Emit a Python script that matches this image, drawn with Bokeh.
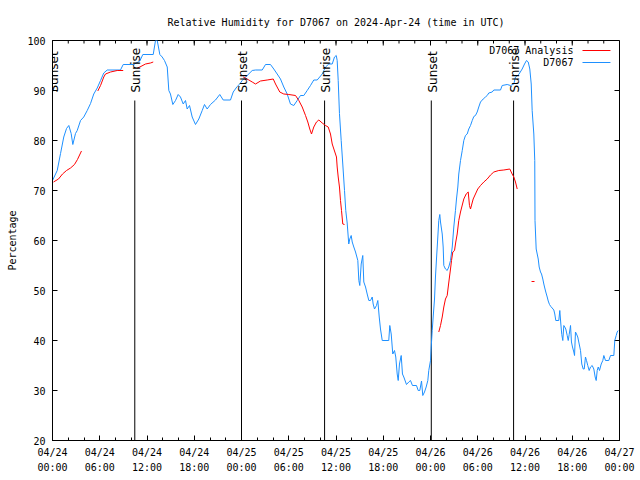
import math
from bokeh.plotting import figure
from bokeh.models import Range1d, FixedTicker, LinearAxis, Label
from bokeh.embed import file_html
from bokeh.resources import INLINE

NaN = float("nan")

TITLE = "Relative Humidity for D7067 on 2024-Apr-24 (time in UTC)"
Y_LABEL = "Percentage"
SERIES_NAMES = ["D7067 Analysis", "D7067"]

# x axis: hours since 2024-04-24 00:00 UTC
tick_hours = [0, 6, 12, 18, 24, 30, 36, 42, 48, 54, 60, 66, 72]
tick_dates = ["04/24", "04/24", "04/24", "04/24", "04/25", "04/25", "04/25",
              "04/25", "04/26", "04/26", "04/26", "04/26", "04/27"]
tick_times = ["00:00", "06:00", "12:00", "18:00", "00:00", "06:00", "12:00",
              "18:00", "00:00", "06:00", "12:00", "18:00", "00:00"]
minor_hours = list(range(0, 73, 2))
y_ticks = [20, 30, 40, 50, 60, 70, 80, 90, 100]

sunset_hours = [-0.05, 24.0, 48.1]
sunrise_hours = [10.45, 34.55, 58.55]

# D7067 observations
obs_hours = [
    0.00, 0.60, 1.02, 1.43, 1.78, 2.07, 2.37, 2.58, 2.92, 3.14, 3.56, 3.97, 4.41,
    4.83, 5.24, 5.68, 6.10, 6.51, 6.95, 8.63, 8.98, 10.32, 11.09, 11.47, 12.79,
    13.08, 13.30, 13.63, 13.93, 14.22, 14.57, 14.77, 14.98, 15.28, 15.62, 15.96,
    16.25, 16.60, 16.89, 17.10, 17.40, 17.74, 18.16, 18.58, 19.01, 19.30, 19.64,
    20.06, 20.70, 21.24, 21.68, 22.60, 22.95, 23.45, 23.78, 24.09, 24.72, 25.36,
    25.78, 26.63, 27.05, 27.68, 28.10, 28.53, 28.95, 29.37, 29.80, 30.22, 30.64,
    31.07, 31.49, 31.91, 32.34, 32.76, 33.18, 33.61, 34.25, 34.67, 35.09, 35.52,
    35.81, 36.03, 36.15, 36.28, 36.44, 36.66, 36.86, 37.08, 37.24, 37.42, 37.62,
    37.75, 37.93, 38.06, 38.26, 38.48, 38.77, 38.90, 39.02, 39.20, 39.40, 39.53,
    39.75, 39.96, 40.17, 40.38, 40.60, 40.72, 40.89, 41.14, 41.31, 41.49, 41.65,
    41.87, 42.70, 42.83, 43.01, 43.21, 43.43, 43.59, 43.77, 43.90, 44.06, 44.28,
    44.44, 44.61, 44.95, 45.24, 45.46, 45.71, 46.22, 46.44, 46.64, 46.86, 47.02,
    47.24, 47.45, 47.66, 47.78, 48.00, 48.09, 48.22, 48.34, 48.51, 48.63, 48.76,
    48.93, 49.05, 49.18, 49.27, 49.49, 49.61, 49.69, 49.90, 50.12, 50.32, 50.54,
    50.76, 50.96, 51.17, 51.30, 51.47, 51.59, 51.81, 52.03, 52.23, 52.44, 52.66,
    52.86, 53.08, 53.30, 53.50, 53.71, 53.93, 54.13, 54.35, 54.69, 54.98, 55.20,
    55.40, 55.83, 56.04, 56.89, 57.10, 57.74, 58.16, 58.58, 58.79, 59.21, 59.64,
    59.94, 60.19, 60.41, 60.61, 60.79, 60.91, 61.12, 61.24, 61.27, 61.42, 61.55,
    61.68, 61.80, 61.97, 62.10, 62.26, 62.39, 62.51, 62.64, 62.82, 62.95, 63.11,
    63.28, 63.45, 63.66, 63.78, 63.91, 64.29, 64.42, 64.55, 64.67, 64.80, 64.93,
    65.05, 65.18, 65.36, 65.49, 65.61, 65.78, 65.90, 66.03, 66.20, 66.29, 66.41,
    66.54, 66.70, 66.88, 67.05, 67.21, 67.39, 67.52, 67.68, 67.81, 67.97, 68.15,
    68.32, 68.53, 68.74, 68.91, 69.04, 69.17, 69.30, 69.46, 69.68, 69.88, 70.01,
    70.22, 70.64, 70.86, 71.28, 71.40, 71.58, 71.71, 71.83,
]
obs_rh = [
    72, 74, 77.4, 80.7, 82.4, 83, 81.4, 79.2, 81.4, 82, 84, 84.7, 86,
    87.4, 89.3, 90.5, 92, 93.5, 94.1, 94.1, 95.2, 95.2, 95.9, 97.2, 97.2,
    100, 100, 97.2, 96.7, 96, 94.7, 90, 89.3, 87.2, 88, 89.2,
    88.7, 87.3, 88, 86.3, 87, 84.7, 83.2, 84.3, 86, 87.2, 86.3,
    87.2, 88.1, 89.2, 88.1, 88.1, 89.7, 90.8, 91.3, 92, 93, 94,
    94.1, 94.1, 95.2, 95.2, 94.3, 93.3, 92.3, 90.7, 89.3, 87.3, 87,
    88, 89, 89, 90, 91, 92.1, 92.1, 93.3, 94.7, 95.3, 95.3,
    96.7, 97, 96, 92, 85.4, 80, 75.3, 70, 66, 63.5, 59.3,
    60.3, 61, 59.7, 58.7, 57.7, 56, 52, 51, 55.3, 57, 51.7,
    50.7, 49.3, 48, 48, 48.7, 47.3, 46.3, 47, 48, 44.7, 42.3,
    40, 40, 43, 41.3, 37.3, 38, 36.7, 33.3, 32, 35.3, 37,
    33.3, 32.7, 31.2, 31.7, 32, 31, 31, 30, 30, 31.9, 29,
    29.7, 30.7, 32, 34, 36, 38.7, 42, 44.7, 48.3, 52.7, 56.3,
    60.7, 64, 65.2, 63.7, 61.3, 58.7, 55, 54.3, 54, 54.7, 56,
    58.7, 62.7, 66, 68.3, 70.7, 73.3, 76, 78, 80, 81, 81.3,
    82.3, 83, 84, 84.8, 85, 85.7, 86.7, 87.7, 88.3, 88.7, 89,
    89.5, 89.7, 90.1, 90.1, 91, 91.2, 91, 91.3, 92.7, 93.2, 94.3,
    95.3, 96, 95.7, 94.3, 91.3, 86, 81.3, 76, 64, 58.3, 57.3,
    56.3, 54.7, 53.7, 53.3, 52.3, 51.3, 50.5, 49.7, 48.7, 47.9, 47.2,
    46.8, 46.5, 46.1, 45.3, 44, 44, 46, 43.3, 41.2, 40, 43,
    42.7, 42.3, 41, 40, 41.2, 43, 39.7, 38.7, 37.7, 37, 41.7,
    41.3, 40.7, 39.3, 38, 35.3, 34.3, 34.3, 36.7, 36, 35, 34,
    34.7, 35, 34.3, 32.7, 32, 34, 34.7, 34, 35.3, 36, 37,
    36, 36, 37, 37, 40, 41, 41.7, 42,
]

# D7067 Analysis (NaN = gap)
ana_hours = [
    0.13, 0.76, 1.27, 1.78, 2.29, 2.79, 3.17, 3.68, NaN,
    5.75, 6.10, 6.51, 6.73, 7.37, 8.22, 8.98, NaN,
    10.76, 11.09, 11.81, 12.44, 12.79, NaN,
    24.22, 24.93, 25.36, 25.78, 26.41, 27.26, 28.03, 28.32, 28.86, 29.37, 30.01,
    30.86, 31.28, 31.71, 32.13, 32.42, 32.67, 32.89, 33.18, 33.52, 33.82, 34.25,
    34.67, 35.01, 35.30, 35.52, 35.81, 36.06, 36.15, 36.28, 36.44, 36.57, 36.70,
    36.86, 37.08, NaN,
    49.05, 49.27, 49.49, 49.69, 49.90, 50.12, 50.25, 50.41, 50.54, 50.67, 50.83,
    51.05, 51.21, 51.39, 51.59, 51.81, 52.23, 52.53, 52.79, 52.95, 53.08, 53.42,
    53.71, 54.00, 54.35, 54.77, 55.20, 55.62, 56.04, 56.67, 57.31, 58.07, 58.37,
    58.58, 58.79, 59.01, NaN,
    60.83, 61.21,
]
ana_rh = [
    71.7, 72.3, 73.3, 74, 74.5, 75.2, 76.2, 77.9, NaN,
    89.9, 91, 92.7, 93.3, 93.7, 94, 94, NaN,
    94.5, 94.7, 95.3, 95.5, 95.7, NaN,
    92.7, 92.1, 91.7, 91.3, 91.9, 92.1, 92.3, 91.3, 89.7, 89.3, 89.2,
    89, 88, 86.7, 85, 83.7, 82.3, 81.3, 82.7, 83.7, 84.1, 83.5,
    83, 82.7, 81.3, 79.3, 77.9, 76.7, 74.7, 72.7, 70.7, 68, 66,
    63.3, 63.2, NaN,
    41.7, 43, 44.7, 46.7, 48.3, 49, 50.7, 52.7, 54.3, 56, 57.7,
    58, 59.7, 61.3, 64, 65.7, 68.3, 69.3, 69.7, 67, 66.3, 68.3,
    69.3, 70.3, 71, 71.7, 72.3, 73.1, 73.7, 74, 74.1, 74.3, 73.3,
    72.7, 71.7, 70.3, NaN,
    51.8, 51.8,
]

RED = "#FF0000"
BLUE = "#1E90FF"
MONO = "DejaVu Sans Mono"

X0, X1 = 0, 72
Y0, Y1 = 20, 100
BORDER_L, BORDER_R, BORDER_T, BORDER_B = 52, 21, 40, 40
W, H = 640, 480

p = figure(width=W, height=H, output_backend="svg", toolbar_location=None,
           x_range=Range1d(X0, X1), y_range=Range1d(Y0, Y1),
           min_border_left=BORDER_L, min_border_right=BORDER_R,
           min_border_top=BORDER_T, min_border_bottom=BORDER_B, title=TITLE)
p.grid.visible = False
p.outline_line_color = "black"
p.outline_line_width = 1
p.background_fill_color = "white"
p.border_fill_color = "white"

p.title.text_font = MONO
p.title.text_font_size = "10px"
p.title.text_font_style = "normal"
p.title.text_color = "black"
p.title.align = "center"
p.title.standoff = 26

xt = FixedTicker(ticks=tick_hours, minor_ticks=minor_hours)
yt = FixedTicker(ticks=y_ticks, minor_ticks=[])

MAJ_TICK, MIN_TICK = 5, 3


def style_axis(ax):
    ax.major_tick_in = MAJ_TICK
    ax.major_tick_out = 0
    ax.minor_tick_in = MIN_TICK
    ax.minor_tick_out = 0
    ax.axis_line_color = "black"
    ax.major_tick_line_color = "black"
    ax.minor_tick_line_color = "black"
    ax.major_label_text_font = MONO
    ax.major_label_text_font_size = "10px"
    ax.major_label_text_color = "black"


xa = p.xaxis[0]
xa.ticker = xt
style_axis(xa)
xa.major_label_overrides = {float(h): d for h, d in zip(tick_hours, tick_dates)}
xa.major_label_standoff = 6

xa2 = LinearAxis(ticker=xt)
style_axis(xa2)
xa2.major_tick_in = 0
xa2.minor_tick_in = 0
xa2.axis_line_color = None
xa2.major_label_overrides = {float(h): t for h, t in zip(tick_hours, tick_times)}
xa2.major_label_standoff = 1
p.add_layout(xa2, "below")

ya = p.yaxis[0]
ya.ticker = yt
style_axis(ya)
ya.major_label_standoff = 7
ya.axis_label = Y_LABEL
ya.axis_label_text_font = MONO
ya.axis_label_text_font_size = "10px"
ya.axis_label_text_font_style = "normal"
ya.axis_label_text_color = "black"
ya.axis_label_standoff = 6

# mirrored inward ticks on the top and right frame edges
px_x = (X1 - X0) / (W - BORDER_L - BORDER_R)
px_y = (Y1 - Y0) / (H - BORDER_T - BORDER_B)
p.segment(x0=tick_hours, y0=[Y1] * len(tick_hours), x1=tick_hours,
          y1=[Y1 - MAJ_TICK * px_y] * len(tick_hours), line_color="black")
p.segment(x0=minor_hours, y0=[Y1] * len(minor_hours), x1=minor_hours,
          y1=[Y1 - MIN_TICK * px_y] * len(minor_hours), line_color="black")
p.segment(x0=[X1] * len(y_ticks), y0=y_ticks, x1=[X1 - MAJ_TICK * px_x] * len(y_ticks),
          y1=y_ticks, line_color="black")

# sunrise / sunset markers
LINE_TOP = 88
LABEL_Y = 89.6
p.segment(x0=sunset_hours, y0=[Y0] * len(sunset_hours), x1=sunset_hours,
          y1=[LINE_TOP] * len(sunset_hours), line_color="black", line_width=1)
p.segment(x0=sunrise_hours, y0=[Y0] * len(sunrise_hours), x1=sunrise_hours,
          y1=[LINE_TOP] * len(sunrise_hours), line_color="black", line_width=1)
for hrs, name in ((sunset_hours, "Sunset"), (sunrise_hours, "Sunrise")):
    for h in hrs:
        p.add_layout(Label(x=h, y=LABEL_Y, text=name, angle=math.pi / 2,
                           text_align="left", text_baseline="middle",
                           x_offset=1.5, text_font="DejaVu Sans",
                           text_font_size="12px", text_color="black"))

p.line(obs_hours, obs_rh, line_color=BLUE, line_width=1)
p.line(ana_hours, ana_rh, line_color=RED, line_width=1)

# key (text followed by line sample, top right)
KEY_TEXT_X = 66.15
KEY_LINE_X0 = 67.3
KEY_LINE_X1 = 70.85
KEY_Y = [98.0, 95.6]
for name, col, ky in zip(SERIES_NAMES, [RED, BLUE], KEY_Y):
    p.add_layout(Label(x=KEY_TEXT_X, y=ky, text=name, text_align="right",
                       text_baseline="middle", text_font=MONO,
                       text_font_size="10px", text_color="black"))
    p.segment(x0=[KEY_LINE_X0], y0=[ky], x1=[KEY_LINE_X1], y1=[ky],
              line_color=col, line_width=1)

open("out.html", "w").write(file_html(p, INLINE))
